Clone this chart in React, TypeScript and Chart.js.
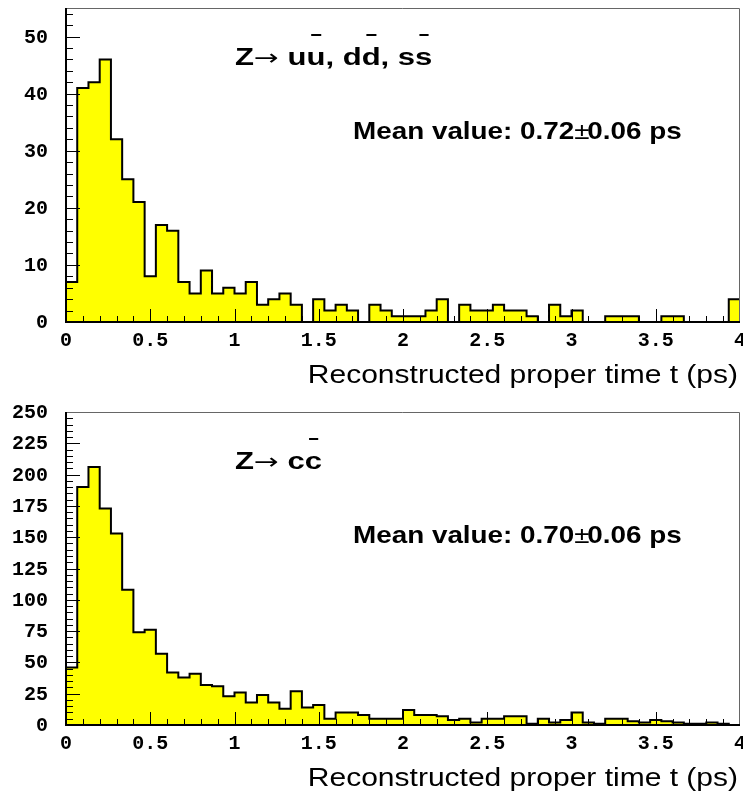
import React, { useEffect, useRef } from "react";
import { Chart, registerables } from "chart.js";

Chart.register(...registerables);

// ---------- data ----------
const X_MIN = 0;
const X_MAX = 4;
const BIN_COUNT = 60;
const BIN_WIDTH = (X_MAX - X_MIN) / BIN_COUNT;

// Z -> u ubar, d dbar, s sbar : entries per bin (60 bins on 0..4 ps)
const udsCounts = [
  7, 41, 42, 46, 32, 25, 21, 8, 17, 16,
  7, 5, 9, 5, 6, 5, 7, 3, 4, 5,
  3, 0, 4, 2, 3, 2, 0, 3, 2, 1,
  1, 1, 2, 4, 0, 3, 2, 2, 3, 2,
  2, 1, 0, 3, 1, 2, 0, 0, 1, 1,
  1, 0, 0, 1, 1, 0, 0, 0, 0, 4,
];

// Z -> c cbar : entries per bin
const ccCounts = [
  46, 190, 206, 173, 153, 108, 74, 76, 57, 42,
  38, 41, 32, 31, 23, 26, 18, 24, 18, 13,
  27, 14, 16, 5, 10, 10, 8, 5, 5, 5,
  12, 8, 8, 7, 4, 5, 2, 5, 5, 7,
  7, 1, 5, 2, 4, 10, 2, 1, 5, 5,
  3, 2, 4, 3, 2, 1, 1, 2, 1, 0,
];

const xTickValues = [0, 0.5, 1, 1.5, 2, 2.5, 3, 3.5, 4];
const xTickLabels = ["0", "0.5", "1", "1.5", "2", "2.5", "3", "3.5", "4"];
const udsYTickValues = [0, 10, 20, 30, 40, 50];
const udsYTickLabels = ["0", "10", "20", "30", "40", "50"];
const ccYTickValues = [0, 25, 50, 75, 100, 125, 150, 175, 200, 225, 250];
const ccYTickLabels = ["0", "25", "50", "75", "100", "125", "150", "175", "200", "225", "250"];

const X_TITLE = "Reconstructed proper time t (ps)";

// ---------- drawing helpers ----------
type Part = { t: string; bold?: boolean; bar?: boolean; kern?: number; font?: string };

const BOLD = (s: number) => `bold ${s}px "Liberation Sans", Arial, sans-serif`;
const REG = (s: number) => `${s}px "Liberation Sans", Arial, sans-serif`;
const ARROW_FONT = '22px "DejaVu Sans", sans-serif';

function drawRich(
  ctx: CanvasRenderingContext2D,
  parts: Part[],
  x: number,
  y: number,
  size: number,
  sx: number,
  barRise: number
) {
  ctx.save();
  ctx.translate(x, y);
  ctx.scale(sx, 1);
  ctx.fillStyle = "#000";
  ctx.textBaseline = "alphabetic";
  ctx.textAlign = "left";
  let cx = 0;
  for (const p of parts) {
    ctx.font = p.font ? p.font : p.bold === false ? REG(size) : BOLD(size);
    cx += p.kern || 0;
    ctx.fillText(p.t, cx, 0);
    const w = ctx.measureText(p.t).width;
    if (p.bar) {
      ctx.strokeStyle = "#000";
      ctx.lineWidth = 2;
      ctx.beginPath();
      ctx.moveTo(cx + w * 0.25, -barRise);
      ctx.lineTo(cx + w * 0.78, -barRise);
      ctx.stroke();
    }
    cx += w;
  }
  ctx.restore();
}

function drawStretched(
  ctx: CanvasRenderingContext2D,
  text: string,
  x: number,
  y: number,
  font: string,
  sx: number,
  align: CanvasTextAlign
) {
  ctx.save();
  ctx.translate(x, y);
  ctx.scale(sx, 1);
  ctx.font = font;
  ctx.textAlign = align;
  ctx.textBaseline = "alphabetic";
  ctx.fillStyle = "#000";
  ctx.fillText(text, 0, 0);
  ctx.restore();
}

type DecorCfg = {
  yMax: number;
  yMajor: number;
  yMinor: number;
  yTickValues: number[];
  yTickLabels: string[];
  heading: Part[];
  mean: Part[];
};

function makeDecor(cfg: DecorCfg) {
  return {
    id: "decor",
    afterDatasetsDraw(chart: any) {
      const { ctx, chartArea: a } = chart;
      const xs = chart.scales.x;
      const ys = chart.scales.y;
      ctx.save();

      // x ticks (inward)
      ctx.strokeStyle = "#000";
      ctx.lineWidth = 1;
      for (let k = 1; k < 40; k++) {
        const v = k / 10;
        const px = Math.round(xs.getPixelForValue(v)) + 0.5;
        const len = k % 5 === 0 ? 13 : 6;
        ctx.beginPath();
        ctx.moveTo(px, a.bottom);
        ctx.lineTo(px, a.bottom - len);
        ctx.stroke();
      }
      // y ticks (inward)
      const nMinor = Math.floor(cfg.yMax / cfg.yMinor + 1e-9);
      for (let k = 1; k <= nMinor; k++) {
        const v = k * cfg.yMinor;
        const py = Math.round(ys.getPixelForValue(v)) + 0.5;
        const major = Math.abs(v / cfg.yMajor - Math.round(v / cfg.yMajor)) < 1e-9;
        const len = major ? 14 : 7;
        ctx.beginPath();
        ctx.moveTo(a.left, py);
        ctx.lineTo(a.left + len, py);
        ctx.stroke();
      }

      // frame
      ctx.strokeStyle = "#666";
      ctx.lineWidth = 1;
      ctx.beginPath();
      ctx.moveTo(a.left, a.top + 0.5);
      ctx.lineTo(a.right - 0.5, a.top + 0.5);
      ctx.lineTo(a.right - 0.5, a.bottom);
      ctx.stroke();
      ctx.strokeStyle = "#000";
      ctx.lineWidth = 2;
      ctx.beginPath();
      ctx.moveTo(a.left, a.top);
      ctx.lineTo(a.left, a.bottom);
      ctx.lineTo(a.right, a.bottom);
      ctx.stroke();

      // tick labels
      ctx.fillStyle = "#000";
      ctx.font = 'bold 20px "Liberation Mono", "Courier New", monospace';
      ctx.textAlign = "right";
      ctx.textBaseline = "middle";
      cfg.yTickValues.forEach((v, i) => {
        ctx.fillText(cfg.yTickLabels[i], a.left - 18, ys.getPixelForValue(v) + 1);
      });
      ctx.textAlign = "center";
      xTickValues.forEach((v, i) => {
        ctx.fillText(xTickLabels[i], xs.getPixelForValue(v), a.bottom + 19);
      });

      // axis title
      drawStretched(ctx, X_TITLE, a.right - 2, a.bottom + 61, REG(25), 1.2, "right");

      // annotations
      drawRich(ctx, cfg.heading, 235, a.top + 57, 23, 1.35, 30);
      drawRich(ctx, cfg.mean, 353, a.top + 131, 24, 1.16, 0);

      ctx.restore();
    },
  };
}

function makeChart(canvas: HTMLCanvasElement, counts: number[], padding: any, cfg: DecorCfg) {
  const pts = counts.map((c, i) => ({ x: X_MIN + i * BIN_WIDTH, y: c }));
  pts.push({ x: X_MAX, y: counts[counts.length - 1] });
  return new Chart(canvas, {
    type: "line",
    data: {
      datasets: [
        {
          data: pts,
          stepped: true,
          fill: "origin",
          backgroundColor: "#ffff00",
          borderColor: "#000",
          borderWidth: 2,
          pointRadius: 0,
          tension: 0,
        },
      ],
    },
    options: {
      responsive: false,
      animation: false,
      layout: { padding },
      plugins: { legend: { display: false }, tooltip: { enabled: false } },
      scales: {
        x: { type: "linear", min: X_MIN, max: X_MAX, display: false },
        y: { type: "linear", min: 0, max: cfg.yMax, display: false },
      },
    },
    plugins: [makeDecor(cfg)],
  } as any);
}

export default function App() {
  const topRef = useRef<HTMLCanvasElement>(null);
  const botRef = useRef<HTMLCanvasElement>(null);

  useEffect(() => {
    const c1 = makeChart(
      topRef.current!,
      udsCounts,
      { left: 66, right: 3, top: 8, bottom: 74 },
      {
        yMax: 55,
        yMajor: 10,
        yMinor: 2,
        yTickValues: udsYTickValues,
        yTickLabels: udsYTickLabels,
        heading: [
          { t: "Z" },
          { t: "\u2192", font: ARROW_FONT, kern: 0 },
          { t: " u" },
          { t: "u", bar: true },
          { t: ", d" },
          { t: "d", bar: true },
          { t: ", s" },
          { t: "s", bar: true },
        ],
        mean: [
          { t: "Mean value: 0.72" },
          { t: "\u00b1", bold: false },
          { t: "0.06 ps", kern: -2 },
        ],
      }
    );
    const c2 = makeChart(
      botRef.current!,
      ccCounts,
      { left: 66, right: 3, top: 16, bottom: 67 },
      {
        yMax: 250,
        yMajor: 25,
        yMinor: 5,
        yTickValues: ccYTickValues,
        yTickLabels: ccYTickLabels,
        heading: [
          { t: "Z" },
          { t: "\u2192", font: ARROW_FONT, kern: 0 },
          { t: " c" },
          { t: "c", bar: true },
        ],
        mean: [
          { t: "Mean value: 0.70" },
          { t: "\u00b1", bold: false },
          { t: "0.06 ps", kern: -2 },
        ],
      }
    );
    return () => {
      c1.destroy();
      c2.destroy();
    };
  }, []);

  return (
    <div style={{ position: "fixed", left: 0, top: 0, width: 743, height: 792, background: "#fff" }}>
      <canvas ref={topRef} width={743} height={396} style={{ position: "absolute", left: 0, top: 0 }} />
      <canvas ref={botRef} width={743} height={396} style={{ position: "absolute", left: 0, top: 396 }} />
    </div>
  );
}
